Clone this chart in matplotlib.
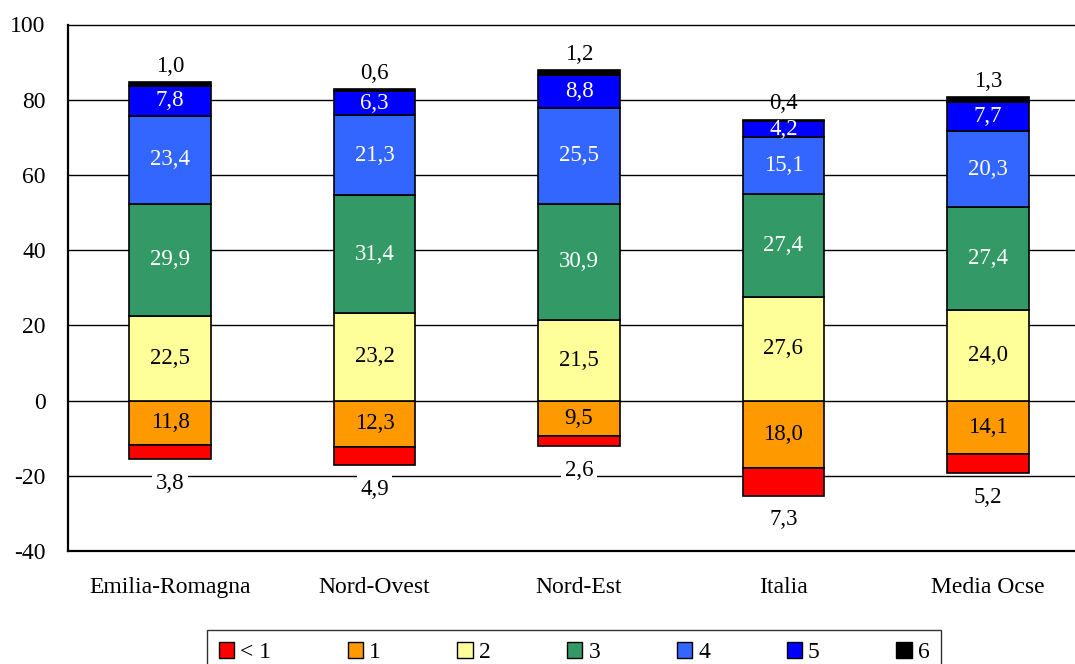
import matplotlib
matplotlib.use("Agg")
import matplotlib.pyplot as plt
from matplotlib.patches import Patch
import numpy as np

plt.rcParams['font.family'] = ['Liberation Serif', 'DejaVu Serif']

regions = ["Emilia-Romagna", "Nord-Ovest", "Nord-Est", "Italia", "Media Ocse"]

# negative side (stacked downward from zero)
lev_lt1 = [3.8, 4.9, 2.6, 7.3, 5.2]
lev_1 = [11.8, 12.3, 9.5, 18.0, 14.1]
# positive side (stacked upward from zero)
lev_2 = [22.5, 23.2, 21.5, 27.6, 24.0]
lev_3 = [29.9, 31.4, 30.9, 27.4, 27.4]
lev_4 = [23.4, 21.3, 25.5, 15.1, 20.3]
lev_5 = [7.8, 6.3, 8.8, 4.2, 7.7]
lev_6 = [1.0, 0.6, 1.2, 0.4, 1.3]

legend_labels = ["< 1", "1", "2", "3", "4", "5", "6"]
colors = ["#FF0000", "#FF9900", "#FFFF99", "#339966", "#3366FF", "#0000FF", "#000000"]
text_colors = ["black", "black", "black", "white", "white", "white", "black"]

y_ticks = [-40, -20, 0, 20, 40, 60, 80, 100]

fig = plt.figure(figsize=(10.75, 6.64), dpi=100)
ax = fig.add_axes([68 / 1075, 1 - 551 / 664, 1022 / 1075, (551 - 24.5) / 664])

x = np.arange(len(regions))
w = 0.4
fs = 16.5
tfs = 17

for yv in [-20, 0, 20, 40, 60, 80]:
    ax.axhline(yv, color="black", lw=1.0, zorder=1)

# downward stack
neg1 = -np.array(lev_1)
neglt1 = -np.array(lev_lt1)
ax.bar(x, neg1, w, color=colors[1], edgecolor="black", lw=1.2, zorder=2)
ax.bar(x, neglt1, w, bottom=neg1, color=colors[0], edgecolor="black", lw=1.2, zorder=2)

# upward stack
pos_series = [lev_2, lev_3, lev_4, lev_5, lev_6]
bottom = np.zeros(len(regions))
pos_bars = []
for i, s in enumerate(pos_series):
    s = np.array(s)
    ax.bar(x, s, w, bottom=bottom, color=colors[i + 2], edgecolor="black",
           lw=1.2, zorder=2)
    pos_bars.append((s, bottom.copy()))
    bottom = bottom + s

def fmt(v):
    return f"{v:.1f}".replace(".", ",")

# labels inside segments
for xi, v in zip(x, lev_1):
    ax.text(xi, -v / 2, fmt(v), ha="center", va="center", fontsize=fs,
            color=text_colors[1], zorder=4)
for k, (s, bot) in enumerate(pos_bars[:4]):
    for xi, v, b in zip(x, s, bot):
        ax.text(xi, b + v / 2, fmt(v), ha="center", va="center", fontsize=fs,
                color=text_colors[k + 2], zorder=4)

# level 6 above the bars
for xi, v, b in zip(x, lev_6, pos_bars[4][1]):
    ax.annotate(fmt(v), (xi, b + v), xytext=(0, 16), textcoords="offset pixels",
                ha="center", va="center", fontsize=fs, color="black", zorder=4)

# level < 1 below the bars
for xi, v, b in zip(x, lev_lt1, neg1):
    ax.annotate(fmt(v), (xi, b - v), xytext=(0, -24), textcoords="offset pixels",
                ha="center", va="center", fontsize=fs, color="black", zorder=4,
                bbox=dict(boxstyle="square,pad=0.15", fc="white", ec="none"))

ax.set_xlim(-0.5, len(regions) - 0.5)
ax.set_ylim(-40, 100)
ax.set_yticks(y_ticks)
ax.set_yticklabels([str(t) for t in y_ticks], fontsize=tfs)
ax.set_xticks(x)
ax.set_xticklabels(regions, fontsize=tfs)
ax.tick_params(axis="both", length=0)
ax.tick_params(axis="y", pad=16)
ax.tick_params(axis="x", pad=19)
for side in ["left", "bottom"]:
    ax.spines[side].set_linewidth(1.6)
ax.spines["top"].set_linewidth(1.0)
ax.spines["right"].set_linewidth(1.0)

handles = [Patch(facecolor=c, edgecolor="black", lw=1.0) for c in colors]
leg = fig.legend(handles, legend_labels, loc="upper center", ncol=7,
                 bbox_to_anchor=(574 / 1075, 1 - 630 / 664), fontsize=tfs,
                 frameon=True, fancybox=False, edgecolor="black",
                 handlelength=0.65, handleheight=0.65, handletextpad=0.25,
                 columnspacing=3.25, borderpad=0.5, borderaxespad=0)
leg.get_frame().set_linewidth(1.0)

fig.savefig("out.png", dpi=100)
